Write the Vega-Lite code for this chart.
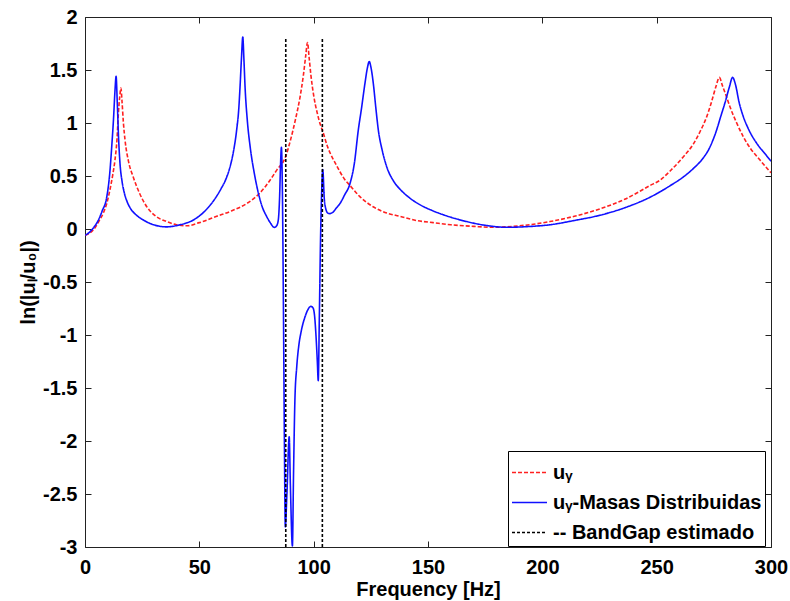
{
"$schema": "https://vega.github.io/schema/vega-lite/v6.json",
"width": 686, "height": 530,
"autosize": "none",
"padding": {"left": 85, "top": 17, "right": 19, "bottom": 54},
"background": "white",
"config": {
  "view": {"stroke": "#222", "strokeWidth": 1},
  "font": "Liberation Sans",
  "axis": {"grid": false, "domain": false, "tickColor": "#222", "tickSize": -6, "tickWidth": 1, "labelFlush": false,
           "labelFont": "Liberation Sans", "labelFontWeight": "bold", "labelFontSize": 20, "labelColor": "#000",
           "titleFont": "Liberation Sans", "titleFontWeight": "bold", "titleFontSize": 20, "titleColor": "#000"}
},
"datasets": {
"curves": [
{"s":"uᵧ","g":"r","f":0,"v":-0.06},{"s":"uᵧ","g":"r","f":2,"v":-0.04},{"s":"uᵧ","g":"r","f":3.6,"v":-0.01},{"s":"uᵧ","g":"r","f":6,"v":0.07},{"s":"uᵧ","g":"r","f":8,"v":0.15},{"s":"uᵧ","g":"r","f":9.5,"v":0.24},{"s":"uᵧ","g":"r","f":11,"v":0.38},{"s":"uᵧ","g":"r","f":12.2,"v":0.52},{"s":"uᵧ","g":"r","f":13.1,"v":0.65},{"s":"uᵧ","g":"r","f":14,"v":0.85},{"s":"uᵧ","g":"r","f":14.6,"v":1.09},{"s":"uᵧ","g":"r","f":15.2,"v":1.25},{"s":"uᵧ","g":"r","f":15.7,"v":1.33},{"s":"uᵧ","g":"r","f":16.2,"v":1.2},{"s":"uᵧ","g":"r","f":16.8,"v":1.0},{"s":"uᵧ","g":"r","f":17.5,"v":0.84},{"s":"uᵧ","g":"r","f":19,"v":0.64},{"s":"uᵧ","g":"r","f":21.1,"v":0.49},{"s":"uᵧ","g":"r","f":24,"v":0.33},{"s":"uᵧ","g":"r","f":27,"v":0.21},{"s":"uᵧ","g":"r","f":31,"v":0.12},{"s":"uᵧ","g":"r","f":35.7,"v":0.07},{"s":"uᵧ","g":"r","f":40,"v":0.04},{"s":"uᵧ","g":"r","f":44.5,"v":0.03},{"s":"uᵧ","g":"r","f":50,"v":0.06},{"s":"uᵧ","g":"r","f":57.6,"v":0.12},{"s":"uᵧ","g":"r","f":64,"v":0.17},{"s":"uᵧ","g":"r","f":70.7,"v":0.24},{"s":"uᵧ","g":"r","f":76.5,"v":0.34},{"s":"uᵧ","g":"r","f":80.9,"v":0.46},{"s":"uᵧ","g":"r","f":84,"v":0.56},{"s":"uᵧ","g":"r","f":87.5,"v":0.67},{"s":"uᵧ","g":"r","f":90,"v":0.85},{"s":"uᵧ","g":"r","f":92,"v":1.03},{"s":"uᵧ","g":"r","f":94,"v":1.24},{"s":"uᵧ","g":"r","f":95.5,"v":1.45},{"s":"uᵧ","g":"r","f":96.5,"v":1.63},{"s":"uᵧ","g":"r","f":97.3,"v":1.76},{"s":"uᵧ","g":"r","f":98,"v":1.62},{"s":"uᵧ","g":"r","f":98.8,"v":1.45},{"s":"uᵧ","g":"r","f":100,"v":1.26},{"s":"uᵧ","g":"r","f":101.5,"v":1.1},{"s":"uᵧ","g":"r","f":103,"v":0.98},{"s":"uᵧ","g":"r","f":104,"v":0.92},{"s":"uᵧ","g":"r","f":106,"v":0.78},{"s":"uᵧ","g":"r","f":108,"v":0.68},{"s":"uᵧ","g":"r","f":110,"v":0.6},{"s":"uᵧ","g":"r","f":111.5,"v":0.54},{"s":"uᵧ","g":"r","f":113.5,"v":0.47},{"s":"uᵧ","g":"r","f":115.9,"v":0.41},{"s":"uᵧ","g":"r","f":120,"v":0.31},{"s":"uᵧ","g":"r","f":126,"v":0.21},{"s":"uᵧ","g":"r","f":132,"v":0.15},{"s":"uᵧ","g":"r","f":137.7,"v":0.12},{"s":"uᵧ","g":"r","f":145,"v":0.08},{"s":"uᵧ","g":"r","f":152.3,"v":0.06},{"s":"uᵧ","g":"r","f":160,"v":0.04},{"s":"uᵧ","g":"r","f":170,"v":0.025},{"s":"uᵧ","g":"r","f":178.5,"v":0.016},{"s":"uᵧ","g":"r","f":190,"v":0.03},{"s":"uᵧ","g":"r","f":203.3,"v":0.07},{"s":"uᵧ","g":"r","f":214,"v":0.12},{"s":"uᵧ","g":"r","f":225.2,"v":0.19},{"s":"uᵧ","g":"r","f":236,"v":0.28},{"s":"uᵧ","g":"r","f":247.1,"v":0.41},{"s":"uᵧ","g":"r","f":251.4,"v":0.46},{"s":"uᵧ","g":"r","f":256,"v":0.55},{"s":"uᵧ","g":"r","f":261.6,"v":0.68},{"s":"uᵧ","g":"r","f":266,"v":0.8},{"s":"uᵧ","g":"r","f":269,"v":0.92},{"s":"uᵧ","g":"r","f":271.9,"v":1.06},{"s":"uᵧ","g":"r","f":274,"v":1.2},{"s":"uᵧ","g":"r","f":276,"v":1.35},{"s":"uᵧ","g":"r","f":277.4,"v":1.43},{"s":"uᵧ","g":"r","f":278.8,"v":1.35},{"s":"uᵧ","g":"r","f":280.5,"v":1.25},{"s":"uᵧ","g":"r","f":282.1,"v":1.15},{"s":"uᵧ","g":"r","f":285,"v":1.0},{"s":"uᵧ","g":"r","f":287.9,"v":0.87},{"s":"uᵧ","g":"r","f":291,"v":0.76},{"s":"uᵧ","g":"r","f":295.2,"v":0.65},{"s":"uᵧ","g":"r","f":300,"v":0.53},
{"s":"uᵧ-Masas Distribuidas","g":"b","f":0,"v":-0.06},{"s":"uᵧ-Masas Distribuidas","g":"b","f":2,"v":-0.03},{"s":"uᵧ-Masas Distribuidas","g":"b","f":4,"v":0.02},{"s":"uᵧ-Masas Distribuidas","g":"b","f":6,"v":0.09},{"s":"uᵧ-Masas Distribuidas","g":"b","f":7.5,"v":0.17},{"s":"uᵧ-Masas Distribuidas","g":"b","f":9.5,"v":0.3},{"s":"uᵧ-Masas Distribuidas","g":"b","f":10.8,"v":0.52},{"s":"uᵧ-Masas Distribuidas","g":"b","f":11.7,"v":0.78},{"s":"uᵧ-Masas Distribuidas","g":"b","f":12.5,"v":1.05},{"s":"uᵧ-Masas Distribuidas","g":"b","f":13.1,"v":1.3},{"s":"uᵧ-Masas Distribuidas","g":"b","f":13.6,"v":1.44},{"s":"uᵧ-Masas Distribuidas","g":"b","f":14.1,"v":1.2},{"s":"uᵧ-Masas Distribuidas","g":"b","f":14.7,"v":0.85},{"s":"uᵧ-Masas Distribuidas","g":"b","f":15.3,"v":0.62},{"s":"uᵧ-Masas Distribuidas","g":"b","f":16.2,"v":0.45},{"s":"uᵧ-Masas Distribuidas","g":"b","f":17.2,"v":0.34},{"s":"uᵧ-Masas Distribuidas","g":"b","f":18.2,"v":0.27},{"s":"uᵧ-Masas Distribuidas","g":"b","f":20,"v":0.19},{"s":"uᵧ-Masas Distribuidas","g":"b","f":22,"v":0.14},{"s":"uᵧ-Masas Distribuidas","g":"b","f":25.5,"v":0.085},{"s":"uᵧ-Masas Distribuidas","g":"b","f":30,"v":0.04},{"s":"uᵧ-Masas Distribuidas","g":"b","f":35.7,"v":0.02},{"s":"uᵧ-Masas Distribuidas","g":"b","f":41.5,"v":0.04},{"s":"uᵧ-Masas Distribuidas","g":"b","f":47.4,"v":0.085},{"s":"uᵧ-Masas Distribuidas","g":"b","f":52,"v":0.16},{"s":"uᵧ-Masas Distribuidas","g":"b","f":56,"v":0.26},{"s":"uᵧ-Masas Distribuidas","g":"b","f":59.5,"v":0.38},{"s":"uᵧ-Masas Distribuidas","g":"b","f":61.8,"v":0.48},{"s":"uᵧ-Masas Distribuidas","g":"b","f":63.6,"v":0.6},{"s":"uᵧ-Masas Distribuidas","g":"b","f":65,"v":0.74},{"s":"uᵧ-Masas Distribuidas","g":"b","f":66.3,"v":0.93},{"s":"uᵧ-Masas Distribuidas","g":"b","f":67.2,"v":1.12},{"s":"uᵧ-Masas Distribuidas","g":"b","f":67.8,"v":1.34},{"s":"uᵧ-Masas Distribuidas","g":"b","f":68.4,"v":1.6},{"s":"uᵧ-Masas Distribuidas","g":"b","f":69,"v":1.81},{"s":"uᵧ-Masas Distribuidas","g":"b","f":69.5,"v":1.6},{"s":"uᵧ-Masas Distribuidas","g":"b","f":70,"v":1.34},{"s":"uᵧ-Masas Distribuidas","g":"b","f":71,"v":1.02},{"s":"uᵧ-Masas Distribuidas","g":"b","f":72.2,"v":0.78},{"s":"uᵧ-Masas Distribuidas","g":"b","f":74,"v":0.53},{"s":"uᵧ-Masas Distribuidas","g":"b","f":75.8,"v":0.34},{"s":"uᵧ-Masas Distribuidas","g":"b","f":77.5,"v":0.21},{"s":"uᵧ-Masas Distribuidas","g":"b","f":79.4,"v":0.12},{"s":"uᵧ-Masas Distribuidas","g":"b","f":81,"v":0.06},{"s":"uᵧ-Masas Distribuidas","g":"b","f":82.8,"v":0.015},{"s":"uᵧ-Masas Distribuidas","g":"b","f":83.8,"v":0.03},{"s":"uᵧ-Masas Distribuidas","g":"b","f":84.5,"v":0.08},{"s":"uᵧ-Masas Distribuidas","g":"b","f":85.1,"v":0.3},{"s":"uᵧ-Masas Distribuidas","g":"b","f":85.5,"v":0.6},{"s":"uᵧ-Masas Distribuidas","g":"b","f":85.9,"v":0.77},{"s":"uᵧ-Masas Distribuidas","g":"b","f":86.3,"v":0.4},{"s":"uᵧ-Masas Distribuidas","g":"b","f":86.8,"v":-0.8},{"s":"uᵧ-Masas Distribuidas","g":"b","f":87.2,"v":-2.0},{"s":"uᵧ-Masas Distribuidas","g":"b","f":87.6,"v":-2.81},{"s":"uᵧ-Masas Distribuidas","g":"b","f":88.3,"v":-2.5},{"s":"uᵧ-Masas Distribuidas","g":"b","f":89.3,"v":-1.96},{"s":"uᵧ-Masas Distribuidas","g":"b","f":89.8,"v":-2.4},{"s":"uᵧ-Masas Distribuidas","g":"b","f":90.7,"v":-2.99},{"s":"uᵧ-Masas Distribuidas","g":"b","f":91.2,"v":-2.3},{"s":"uᵧ-Masas Distribuidas","g":"b","f":91.8,"v":-1.61},{"s":"uᵧ-Masas Distribuidas","g":"b","f":92.6,"v":-1.3},{"s":"uᵧ-Masas Distribuidas","g":"b","f":93.5,"v":-1.1},{"s":"uᵧ-Masas Distribuidas","g":"b","f":94.5,"v":-0.97},{"s":"uᵧ-Masas Distribuidas","g":"b","f":96.2,"v":-0.83},{"s":"uᵧ-Masas Distribuidas","g":"b","f":97.5,"v":-0.76},{"s":"uᵧ-Masas Distribuidas","g":"b","f":98.7,"v":-0.73},{"s":"uᵧ-Masas Distribuidas","g":"b","f":99.6,"v":-0.74},{"s":"uᵧ-Masas Distribuidas","g":"b","f":100.3,"v":-0.8},{"s":"uᵧ-Masas Distribuidas","g":"b","f":101,"v":-1.0},{"s":"uᵧ-Masas Distribuidas","g":"b","f":101.6,"v":-1.25},{"s":"uᵧ-Masas Distribuidas","g":"b","f":102,"v":-1.43},{"s":"uᵧ-Masas Distribuidas","g":"b","f":102.5,"v":-0.8},{"s":"uᵧ-Masas Distribuidas","g":"b","f":103,"v":-0.1},{"s":"uᵧ-Masas Distribuidas","g":"b","f":103.5,"v":0.35},{"s":"uᵧ-Masas Distribuidas","g":"b","f":104,"v":0.56},{"s":"uᵧ-Masas Distribuidas","g":"b","f":104.6,"v":0.3},{"s":"uᵧ-Masas Distribuidas","g":"b","f":105.3,"v":0.19},{"s":"uᵧ-Masas Distribuidas","g":"b","f":106.2,"v":0.15},{"s":"uᵧ-Masas Distribuidas","g":"b","f":107,"v":0.145},{"s":"uᵧ-Masas Distribuidas","g":"b","f":108.5,"v":0.16},{"s":"uᵧ-Masas Distribuidas","g":"b","f":110,"v":0.2},{"s":"uᵧ-Masas Distribuidas","g":"b","f":111.5,"v":0.24},{"s":"uᵧ-Masas Distribuidas","g":"b","f":113.5,"v":0.32},{"s":"uᵧ-Masas Distribuidas","g":"b","f":115.9,"v":0.43},{"s":"uᵧ-Masas Distribuidas","g":"b","f":117.8,"v":0.62},{"s":"uᵧ-Masas Distribuidas","g":"b","f":119.5,"v":0.93},{"s":"uᵧ-Masas Distribuidas","g":"b","f":121,"v":1.15},{"s":"uᵧ-Masas Distribuidas","g":"b","f":122.4,"v":1.37},{"s":"uᵧ-Masas Distribuidas","g":"b","f":123.5,"v":1.52},{"s":"uᵧ-Masas Distribuidas","g":"b","f":124.3,"v":1.58},{"s":"uᵧ-Masas Distribuidas","g":"b","f":125.1,"v":1.52},{"s":"uᵧ-Masas Distribuidas","g":"b","f":126.1,"v":1.37},{"s":"uᵧ-Masas Distribuidas","g":"b","f":127.2,"v":1.14},{"s":"uᵧ-Masas Distribuidas","g":"b","f":128.3,"v":0.93},{"s":"uᵧ-Masas Distribuidas","g":"b","f":130,"v":0.74},{"s":"uᵧ-Masas Distribuidas","g":"b","f":131.9,"v":0.59},{"s":"uᵧ-Masas Distribuidas","g":"b","f":135,"v":0.45},{"s":"uᵧ-Masas Distribuidas","g":"b","f":138,"v":0.37},{"s":"uᵧ-Masas Distribuidas","g":"b","f":140.7,"v":0.315},{"s":"uᵧ-Masas Distribuidas","g":"b","f":146,"v":0.235},{"s":"uᵧ-Masas Distribuidas","g":"b","f":152.3,"v":0.17},{"s":"uᵧ-Masas Distribuidas","g":"b","f":158,"v":0.125},{"s":"uᵧ-Masas Distribuidas","g":"b","f":166.9,"v":0.07},{"s":"uᵧ-Masas Distribuidas","g":"b","f":175,"v":0.035},{"s":"uᵧ-Masas Distribuidas","g":"b","f":184.4,"v":0.016},{"s":"uᵧ-Masas Distribuidas","g":"b","f":193,"v":0.022},{"s":"uᵧ-Masas Distribuidas","g":"b","f":203.3,"v":0.04},{"s":"uᵧ-Masas Distribuidas","g":"b","f":214,"v":0.08},{"s":"uᵧ-Masas Distribuidas","g":"b","f":225.2,"v":0.13},{"s":"uᵧ-Masas Distribuidas","g":"b","f":236,"v":0.2},{"s":"uᵧ-Masas Distribuidas","g":"b","f":247.1,"v":0.3},{"s":"uᵧ-Masas Distribuidas","g":"b","f":251.4,"v":0.35},{"s":"uᵧ-Masas Distribuidas","g":"b","f":256,"v":0.41},{"s":"uᵧ-Masas Distribuidas","g":"b","f":261.6,"v":0.49},{"s":"uᵧ-Masas Distribuidas","g":"b","f":266,"v":0.57},{"s":"uᵧ-Masas Distribuidas","g":"b","f":270,"v":0.66},{"s":"uᵧ-Masas Distribuidas","g":"b","f":273,"v":0.76},{"s":"uᵧ-Masas Distribuidas","g":"b","f":276,"v":0.92},{"s":"uᵧ-Masas Distribuidas","g":"b","f":278,"v":1.06},{"s":"uᵧ-Masas Distribuidas","g":"b","f":280,"v":1.2},{"s":"uᵧ-Masas Distribuidas","g":"b","f":281.8,"v":1.34},{"s":"uᵧ-Masas Distribuidas","g":"b","f":283.2,"v":1.43},{"s":"uᵧ-Masas Distribuidas","g":"b","f":284.5,"v":1.36},{"s":"uᵧ-Masas Distribuidas","g":"b","f":286,"v":1.2},{"s":"uᵧ-Masas Distribuidas","g":"b","f":287.9,"v":1.06},{"s":"uᵧ-Masas Distribuidas","g":"b","f":290,"v":0.95},{"s":"uᵧ-Masas Distribuidas","g":"b","f":293.7,"v":0.81},{"s":"uᵧ-Masas Distribuidas","g":"b","f":297,"v":0.72},{"s":"uᵧ-Masas Distribuidas","g":"b","f":300,"v":0.64},
{"s":"-- BandGap estimado","g":"L","f":87.8,"v":-3},{"s":"-- BandGap estimado","g":"L","f":87.8,"v":1.8},
{"s":"-- BandGap estimado","g":"R","f":103.8,"v":-3},{"s":"-- BandGap estimado","g":"R","f":103.8,"v":1.8}
]
},
"data": {"name": "curves"},
"layer": [
  {
    "transform": [{"filter": "datum.g === 'r' || datum.g === 'b'"}],
    "mark": {"type": "line", "strokeWidth": 1.6, "clip": true, "interpolate": "monotone"},
    "encoding": {
      "x": {"field": "f", "type": "quantitative", "scale": {"domain": [0, 300], "nice": false, "zero": false},
            "axis": {"orient": "bottom", "title": "Frequency [Hz]", "values": [0,50,100,150,200,250,300], "labelPadding": 16, "titlePadding": 2}},
      "y": {"field": "v", "type": "quantitative", "scale": {"domain": [-3, 2], "nice": false, "zero": false},
            "axis": {"orient": "left", "title": "ln(|uₗ/u₀|)", "values": [-3,-2.5,-2,-1.5,-1,-0.5,0,0.5,1,1.5,2], "labelExpr": "toString(datum.value)", "labelPadding": 14, "titlePadding": 4}},
      "detail": {"field": "g"},
      "color": {"field": "s", "type": "nominal",
        "scale": {"domain": ["uᵧ", "uᵧ-Masas Distribuidas", "-- BandGap estimado"], "range": ["#ff2020", "#1010ff", "#000000"]},
        "legend": {"title": null, "orient": "none", "legendX": 423, "legendY": 434, "strokeColor": "#000", "fillColor": "#fff",
          "padding": 3, "labelFont": "Liberation Sans", "labelFontWeight": "bold", "labelFontSize": 20, "labelColor": "#000", "labelLimit": 400,
          "symbolType": "stroke", "symbolSize": 1225, "symbolStrokeWidth": 1.5, "rowPadding": 1, "labelOffset": 5}},
      "strokeDash": {"field": "s", "type": "nominal",
        "scale": {"domain": ["uᵧ", "uᵧ-Masas Distribuidas", "-- BandGap estimado"], "range": [[4, 2], [1, 0], [3, 2]]},
        "legend": {"title": null}}
    }
  },
  {
    "transform": [{"filter": "datum.g === 'L' || datum.g === 'R'"}],
    "mark": {"type": "line", "strokeWidth": 1.6, "clip": true},
    "encoding": {
      "x": {"field": "f", "type": "quantitative", "axis": null},
      "y": {"field": "v", "type": "quantitative", "axis": null},
      "detail": {"field": "g"},
      "color": {"field": "s", "type": "nominal",
        "scale": {"domain": ["uᵧ", "uᵧ-Masas Distribuidas", "-- BandGap estimado"], "range": ["#ff2020", "#1010ff", "#000000"]}},
      "strokeDash": {"field": "s", "type": "nominal",
        "scale": {"domain": ["uᵧ", "uᵧ-Masas Distribuidas", "-- BandGap estimado"], "range": [[4, 2], [1, 0], [3, 2]]}}
    }
  },
  {
    "mark": {"type": "point", "opacity": 0},
    "encoding": {
      "x": {"field": "f", "type": "quantitative", "axis": {"orient": "top", "title": null, "labels": false, "values": [0,50,100,150,200,250,300]}},
      "y": {"field": "v", "type": "quantitative", "axis": {"orient": "right", "title": null, "labels": false, "values": [-3,-2.5,-2,-1.5,-1,-0.5,0,0.5,1,1.5,2]}}
    }
  }
],
"resolve": {"axis": {"x": "independent", "y": "independent"}}
}
